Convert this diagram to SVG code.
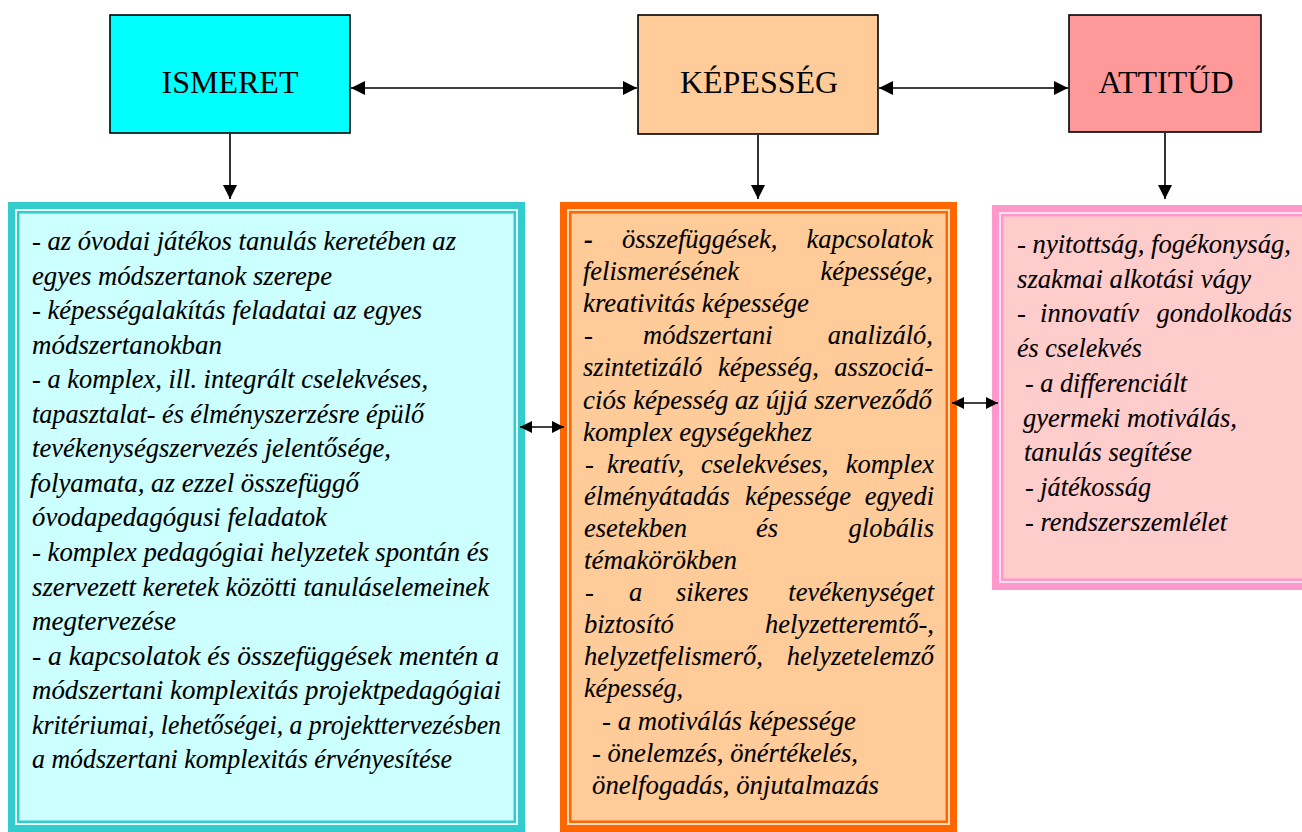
<svg xmlns="http://www.w3.org/2000/svg" width="1302" height="832" viewBox="0 0 1302 832">
<style>
.hd{font-family:"Liberation Serif","Times New Roman",serif;font-size:32px;fill:#000;text-anchor:middle}
.bx{stroke:#000;stroke-width:1.6}
.t{font-family:"Liberation Serif","Times New Roman",serif;font-style:italic;font-size:26.5px;fill:#000;stroke:#000;stroke-width:0.1}
.e{text-anchor:end}
.ln{stroke:#000;stroke-width:1.6;fill:none}
</style>
<defs>
<marker id="ah" viewBox="0 0 14 14" refX="14" refY="7" markerWidth="14" markerHeight="14" markerUnits="userSpaceOnUse" orient="auto-start-reverse">
<path d="M0,0 L14,7 L0,14 z" fill="#000"/>
</marker>
<marker id="as" viewBox="0 0 12 12" refX="12" refY="6" markerWidth="12" markerHeight="12" markerUnits="userSpaceOnUse" orient="auto-start-reverse">
<path d="M0,0 L12,6 L0,12 z" fill="#000"/>
</marker>
</defs>
<rect width="1302" height="832" fill="#fff"/>

<g id="node-ismeret">
<rect class="bx" x="110" y="15" width="240" height="118" fill="#00FFFF"/>
<text class="hd" x="230" y="93">ISMERET</text>
</g>
<g id="node-kepesseg">
<rect class="bx" x="638" y="15" width="240" height="119" fill="#FFCC99"/>
<text class="hd" x="759" y="93">KÉPESSÉG</text>
</g>
<g id="node-attitud">
<rect class="bx" x="1069" y="15" width="192" height="117" fill="#FF9999"/>
<text class="hd" x="1166" y="93">ATTITŰD</text>
</g>

<g id="node-ismeret-detail">
<rect x="8" y="202" width="517" height="630" fill="#33CCCC"/>
<rect x="15" y="209" width="503" height="616" fill="#E6FFFF"/>
<rect x="17" y="211" width="499" height="612" fill="#33CCCC"/>
<rect x="19.5" y="213.5" width="494" height="607" fill="#CCFFFF"/>
<text class="t" x="32" y="250" textLength="424" lengthAdjust="spacingAndGlyphs">- az óvodai játékos tanulás keretében az</text>
<text class="t" x="32" y="284.6" textLength="300" lengthAdjust="spacingAndGlyphs">egyes módszertanok szerepe</text>
<text class="t" x="32" y="319.1" textLength="390" lengthAdjust="spacingAndGlyphs">- képességalakítás feladatai az egyes</text>
<text class="t" x="32" y="353.7" textLength="190" lengthAdjust="spacingAndGlyphs">módszertanokban</text>
<text class="t" x="32" y="388.2" textLength="396" lengthAdjust="spacingAndGlyphs">- a komplex, ill. integrált cselekvéses,</text>
<text class="t" x="32" y="422.8" textLength="392" lengthAdjust="spacingAndGlyphs">tapasztalat- és élményszerzésre épülő</text>
<text class="t" x="32" y="457.3" textLength="359" lengthAdjust="spacingAndGlyphs">tevékenységszervezés jelentősége,</text>
<text class="t" x="30" y="491.9" textLength="329" lengthAdjust="spacingAndGlyphs">folyamata, az ezzel összefüggő</text>
<text class="t" x="32" y="526.4" textLength="295" lengthAdjust="spacingAndGlyphs">óvodapedagógusi feladatok</text>
<text class="t" x="32" y="561" textLength="457" lengthAdjust="spacingAndGlyphs">- komplex pedagógiai helyzetek spontán és</text>
<text class="t" x="32" y="595.5" textLength="457" lengthAdjust="spacingAndGlyphs">szervezett keretek közötti tanuláselemeinek</text>
<text class="t" x="32" y="630.1" textLength="144" lengthAdjust="spacingAndGlyphs">megtervezése</text>
<text class="t" x="32" y="664.6" textLength="467" lengthAdjust="spacingAndGlyphs">- a kapcsolatok és összefüggések mentén a</text>
<text class="t" x="32" y="699.2" textLength="469" lengthAdjust="spacingAndGlyphs">módszertani komplexitás projektpedagógiai</text>
<text class="t" x="32" y="733.7" textLength="469" lengthAdjust="spacingAndGlyphs">kritériumai, lehetőségei, a projekttervezésben</text>
<text class="t" x="32" y="768.3" textLength="420" lengthAdjust="spacingAndGlyphs">a módszertani komplexitás érvényesítése</text>
</g>

<g id="node-kepesseg-detail">
<rect x="560" y="202" width="397" height="630" fill="#FF6600"/>
<rect x="567" y="209" width="383" height="616" fill="#FFDDBB"/>
<rect x="569" y="211" width="379" height="612" fill="#FF6600"/>
<rect x="571.5" y="213.5" width="374" height="607" fill="#FFCC99"/>
<text class="t" x="584" y="248" font-weight="bold">-</text>
<text class="t" x="622" y="248">összefüggések,</text>
<text class="t e" x="933" y="248">kapcsolatok</text>
<text class="t" x="583" y="280.1">felismerésének</text>
<text class="t e" x="933" y="280.1">képessége,</text>
<text class="t" x="583" y="312.2" textLength="226" lengthAdjust="spacingAndGlyphs">kreativitás képessége</text>
<text class="t" x="584" y="344.3">-</text>
<text class="t" x="643" y="344.3">módszertani</text>
<text class="t e" x="933" y="344.3">analizáló,</text>
<text class="t" x="583" y="376.4">szintetizáló</text>
<text class="t" x="718" y="376.4">képesség,</text>
<text class="t e" x="933" y="376.4">asszociá-</text>
<text class="t" x="583" y="408.5" textLength="349" lengthAdjust="spacingAndGlyphs">ciós képesség az újjá szerveződő</text>
<text class="t" x="583" y="440.6" textLength="229" lengthAdjust="spacingAndGlyphs">komplex egységekhez</text>
<text class="t" x="585" y="472.7">-</text>
<text class="t" x="607" y="472.7">kreatív,</text>
<text class="t" x="701" y="472.7">cselekvéses,</text>
<text class="t e" x="934" y="472.7">komplex</text>
<text class="t" x="584" y="504.8">élményátadás</text>
<text class="t" x="745" y="504.8">képessége</text>
<text class="t e" x="934" y="504.8">egyedi</text>
<text class="t" x="584" y="536.9">esetekben</text>
<text class="t" x="756" y="536.9">és</text>
<text class="t e" x="934" y="536.9">globális</text>
<text class="t" x="584" y="569" textLength="153" lengthAdjust="spacingAndGlyphs">témakörökben</text>
<text class="t" x="585" y="601.1">-</text>
<text class="t" x="629" y="601.1">a</text>
<text class="t" x="676" y="601.1">sikeres</text>
<text class="t e" x="934" y="601.1">tevékenységet</text>
<text class="t" x="584" y="633.2">biztosító</text>
<text class="t e" x="934" y="633.2">helyzetteremtő-,</text>
<text class="t" x="584" y="665.3">helyzetfelismerő,</text>
<text class="t e" x="934" y="665.3">helyzetelemző</text>
<text class="t" x="584" y="697.4" textLength="99" lengthAdjust="spacingAndGlyphs">képesség,</text>
<text class="t" x="602" y="729.5" textLength="254" lengthAdjust="spacingAndGlyphs">- a motiválás képessége</text>
<text class="t" x="592" y="761.6" textLength="266" lengthAdjust="spacingAndGlyphs">- önelemzés, önértékelés,</text>
<text class="t" x="592" y="793.7" textLength="287" lengthAdjust="spacingAndGlyphs">önelfogadás, önjutalmazás</text>
</g>

<g id="node-attitud-detail">
<rect x="992" y="205" width="330" height="385" fill="#FF99CC"/>
<rect x="999" y="212" width="316" height="371" fill="#FFE0EE"/>
<rect x="1001" y="214" width="312" height="367" fill="#FF99CC"/>
<rect x="1003.5" y="216.5" width="307" height="362" fill="#FFCCCC"/>
<text class="t" x="1017" y="253" textLength="274" lengthAdjust="spacingAndGlyphs">- nyitottság, fogékonyság,</text>
<text class="t" x="1017" y="287.7" textLength="234" lengthAdjust="spacingAndGlyphs">szakmai alkotási vágy</text>
<text class="t" x="1017" y="322.4">-</text>
<text class="t" x="1040" y="322.4" textLength="99" lengthAdjust="spacingAndGlyphs">innovatív</text>
<text class="t e" x="1292" y="322.4">gondolkodás</text>
<text class="t" x="1017" y="357.1" textLength="125" lengthAdjust="spacingAndGlyphs">és cselekvés</text>
<text class="t" x="1025" y="391.8" textLength="162" lengthAdjust="spacingAndGlyphs">- a differenciált</text>
<text class="t" x="1023" y="426.5" textLength="214" lengthAdjust="spacingAndGlyphs">gyermeki motiválás,</text>
<text class="t" x="1024" y="461.2" textLength="168" lengthAdjust="spacingAndGlyphs">tanulás segítése</text>
<text class="t" x="1025" y="495.9" textLength="126" lengthAdjust="spacingAndGlyphs">- játékosság</text>
<text class="t" x="1025" y="530.6" textLength="202" lengthAdjust="spacingAndGlyphs">- rendszerszemlélet</text>
</g>

<g id="connectors">
<line class="ln" x1="351" y1="88" x2="637" y2="88" marker-start="url(#ah)" marker-end="url(#ah)"/>
<line class="ln" x1="879" y1="88" x2="1068" y2="88" marker-start="url(#ah)" marker-end="url(#ah)"/>
<line class="ln" x1="230" y1="134" x2="230" y2="199" marker-end="url(#ah)"/>
<line class="ln" x1="758" y1="135" x2="758" y2="199" marker-end="url(#ah)"/>
<line class="ln" x1="1165" y1="133" x2="1165" y2="199" marker-end="url(#ah)"/>
<line class="ln" x1="520" y1="427" x2="564" y2="427" marker-start="url(#as)" marker-end="url(#as)"/>
<line class="ln" x1="952" y1="403" x2="998" y2="403" marker-start="url(#as)" marker-end="url(#as)"/>
</g>
</svg>
